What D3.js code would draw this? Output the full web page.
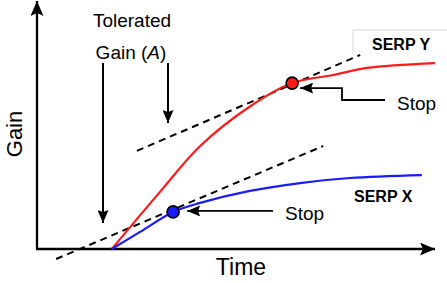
<!DOCTYPE html>
<html>
<head>
<meta charset="utf-8">
<script src="https://cdn.jsdelivr.net/npm/d3@7"></script>
<style>
  body { margin: 0; background: #fff; }
  text { font-family: "Liberation Sans", Arial, Helvetica, sans-serif; fill: #000; }
</style>
</head>
<body>
<div id="chart"></div>
<script>
// SERP Y (red) curve: time vs gain
const redTime = [18.8, 30.9, 41.0, 53.5, 64.1, 74.4, 82.9, 100];
const redGain = [0, 23.4, 42.2, 58.4, 68.0, 71.3, 74.2, 76.2];
// SERP X (blue) curve
const blueTime = [18.8, 25.9, 34.2, 41.0, 53.5, 66.1, 78.6, 96.7];
const blueGain = [0, 7.0, 15.2, 18.9, 23.8, 27.0, 29.1, 30.3];
// stop points
const stopTime = [64.1, 34.2];
const stopGain = [68.0, 15.2];
const stopColors = ['#ff1a1a', '#1a1aff'];
// dashed tangent lines [t0, g0, t1, g1]
const tangentUpper = [25.1, 40.2, 81.2, 79.5];
const tangentLower = [4.8, -4.1, 71.9, 42.2];

const w = 447, h = 283;
const svg = d3.select('#chart').append('svg').attr('width', w).attr('height', h);

const x = d3.scaleLinear().domain([0, 100]).range([37, 435]);
const y = d3.scaleLinear().domain([0, 100]).range([249, 5]);

const defs = svg.append('defs');
function arrowMarker(id, len, wid, notch) {
  defs.append('marker')
    .attr('id', id)
    .attr('markerUnits', 'userSpaceOnUse')
    .attr('markerWidth', len).attr('markerHeight', wid)
    .attr('viewBox', `0 0 ${len} ${wid}`)
    .attr('refX', len).attr('refY', wid / 2)
    .attr('orient', 'auto')
    .append('path')
    .attr('d', `M0,0 L${len},${wid / 2} L0,${wid} L${notch},${wid / 2} Z`)
    .attr('fill', '#000');
}
arrowMarker('axisArrow', 15, 13, 3);
arrowMarker('smallArrow', 13, 11, 2);

// axes
svg.append('line')
  .attr('x1', x(0)).attr('y1', y(0)).attr('x2', x(0)).attr('y2', 1)
  .attr('stroke', '#000').attr('stroke-width', 2.3)
  .attr('marker-end', 'url(#axisArrow)');
svg.append('line')
  .attr('x1', x(0) - 1).attr('y1', y(0)).attr('x2', x(100)).attr('y2', y(0))
  .attr('stroke', '#000').attr('stroke-width', 2.3)
  .attr('marker-end', 'url(#axisArrow)');

// dashed tangents
[tangentUpper, tangentLower].forEach(t => {
  svg.append('line')
    .attr('x1', x(t[0])).attr('y1', y(t[1]))
    .attr('x2', x(t[2])).attr('y2', y(t[3]))
    .attr('stroke', '#000').attr('stroke-width', 2)
    .attr('stroke-dasharray', '7,5');
});

// SERP Y box
svg.append('path')
  .attr('d', 'M353,54 L353,30 L447,30')
  .attr('fill', 'none').attr('stroke', '#d8d8d8').attr('stroke-width', 1);
svg.append('rect').attr('x', 354).attr('y', 31).attr('width', 93).attr('height', 22).attr('fill', '#fff');

const line = d3.line().x(d => x(d[0])).y(d => y(d[1])).curve(d3.curveCatmullRom.alpha(0.5));
svg.append('path')
  .datum(redTime.map((t, i) => [t, redGain[i]]))
  .attr('d', line).attr('fill', 'none')
  .attr('stroke', '#ff1a1a').attr('stroke-width', 2.2);
svg.append('path')
  .datum(blueTime.map((t, i) => [t, blueGain[i]]))
  .attr('d', line).attr('fill', 'none')
  .attr('stroke', '#1a1aff').attr('stroke-width', 2.2);

// stop dots
svg.selectAll('circle.stop')
  .data(stopTime)
  .enter()
  .append('circle')
  .attr('class', 'stop')
  .attr('cx', d => x(d))
  .attr('cy', (d, i) => y(stopGain[i]))
  .attr('r', 6)
  .attr('fill', (d, i) => stopColors[i])
  .attr('stroke', '#000').attr('stroke-width', 1.6);

// stop arrows
const rx = x(stopTime[0]), ry = y(stopGain[0]);
svg.append('path')
  .attr('d', `M385,100 L342,100 L342,${ry + 5} L${rx + 8},${ry + 5}`)
  .attr('fill', 'none').attr('stroke', '#000').attr('stroke-width', 1.8)
  .attr('marker-end', 'url(#smallArrow)');
const bx = x(stopTime[1]), by = y(stopGain[1]);
svg.append('line')
  .attr('x1', 273).attr('y1', by - 1).attr('x2', bx + 14).attr('y2', by - 1)
  .attr('stroke', '#000').attr('stroke-width', 1.8)
  .attr('marker-end', 'url(#smallArrow)');

// tolerated gain arrows
svg.append('line')
  .attr('x1', 103).attr('y1', 63).attr('x2', 103).attr('y2', 223)
  .attr('stroke', '#000').attr('stroke-width', 2)
  .attr('marker-end', 'url(#smallArrow)');
svg.append('line')
  .attr('x1', 168).attr('y1', 63).attr('x2', 168).attr('y2', 123)
  .attr('stroke', '#000').attr('stroke-width', 2)
  .attr('marker-end', 'url(#smallArrow)');

// labels
svg.append('text').attr('x', 132).attr('y', 27).attr('text-anchor', 'middle')
  .style('font-size', '19px').text('Tolerated');
const g2 = svg.append('text').attr('x', 131).attr('y', 59).attr('text-anchor', 'middle')
  .style('font-size', '19px');
g2.append('tspan').text('Gain (');
g2.append('tspan').style('font-style', 'italic').text('A');
g2.append('tspan').text(')');

svg.append('text').attr('x', 372).attr('y', 50)
  .style('font-size', '16px').style('font-weight', 'bold').text('SERP Y');
svg.append('text').attr('x', 354).attr('y', 202)
  .style('font-size', '16px').style('font-weight', 'bold').text('SERP X');

svg.append('text').attr('x', 397).attr('y', 110)
  .style('font-size', '19px').text('Stop');
svg.append('text').attr('x', 285).attr('y', 220)
  .style('font-size', '19px').text('Stop');

svg.append('text').attr('x', 241).attr('y', 275).attr('text-anchor', 'middle')
  .style('font-size', '23px').text('Time');
svg.append('text').attr('transform', 'translate(22,134) rotate(-90)')
  .attr('text-anchor', 'middle')
  .style('font-size', '22px').text('Gain');
</script>
</body>
</html>
